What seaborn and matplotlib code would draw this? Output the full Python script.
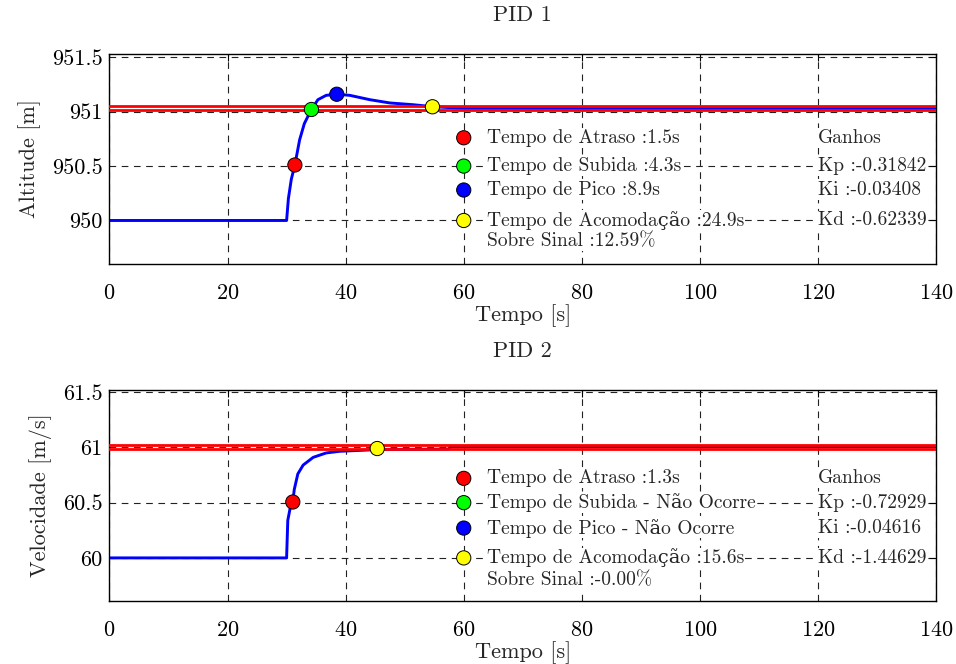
import matplotlib
matplotlib.use("Agg")
import matplotlib.pyplot as plt
import numpy as np
import pandas as pd
import seaborn as sns
from matplotlib.ticker import FuncFormatter

# ---------------- data ----------------
titles = ["PID 1", "PID 2"]
ylabels = ["Altitude [m]", "Velocidade [m/s]"]
xlabel = "Tempo [s]"
xticks = [0, 20, 40, 60, 80, 100, 120, 140]

# PID 1 (altitude)
t1 = [0, 30.0, 30.3, 30.8, 31.4, 32.2, 33.0, 34.1, 35.3, 36.7, 38.5, 40.7,
      44.1, 47.5, 51.4, 54.7, 60.0, 140]
y1 = [950.0, 950.0, 950.2, 950.38, 950.51, 950.74, 950.89, 951.01, 951.11,
      951.15, 951.16, 951.15, 951.11, 951.08, 951.064, 951.046, 951.03, 951.03]
band1 = [951.011, 951.049]
yticks1 = [950, 950.5, 951, 951.5]
ylim1 = (949.6, 951.53)
mk_t1 = [31.4, 34.2, 38.5, 54.7]
mk_y1 = [950.51, 951.02, 951.16, 951.045]
leg_y1 = [950.76, 950.5, 950.28, 950.0, 949.81]
texts1 = ["Tempo de Atraso :1.5s", "Tempo de Subida :4.3s", "Tempo de Pico :8.9s",
          "Tempo de Acomodação :24.9s", "Sobre Sinal :12.59%"]
gains1 = ["Ganhos", "Kp :-0.31842", "Ki :-0.03408", "Kd :-0.62339"]

# PID 2 (velocidade)
t2 = [0, 30.0, 30.2, 30.6, 31.05, 31.3, 31.6, 31.9, 32.8, 34.5, 36.7, 39.0,
      45.2, 57.4, 57.8, 140]
y2 = [60.0, 60.0, 60.34, 60.45, 60.51, 60.62, 60.69, 60.76, 60.84, 60.91,
      60.95, 60.965, 60.98, 60.985, 61.006, 61.006]
band2 = [60.987, 61.025]
yticks2 = [60, 60.5, 61, 61.5]
ylim2 = (59.61, 61.52)
mk_t2 = [31.05, 45.35]
mk_y2 = [60.506, 60.99]
mk_c2 = ["#ff0000", "#ffff00"]
leg_y2 = [60.72, 60.5, 60.27, 60.0, 59.80]
texts2 = ["Tempo de Atraso :1.3s", "Tempo de Subida - Não Ocorre",
          "Tempo de Pico - Não Ocorre", "Tempo de Acomodação :15.6s",
          "Sobre Sinal :-0.00%"]
gains2 = ["Ganhos", "Kp :-0.72929", "Ki :-0.04616", "Kd :-1.44629"]

marker_colors = ["#ff0000", "#00ff00", "#0000ff", "#ffff00"]
leg_marker_x = 60
leg_text_x = 64
gain_x = 120

# ---------------- style ----------------
sns.set_style("white")
plt.rcParams['font.family'] = ['cmr10', 'DejaVu Serif']
plt.rcParams['axes.formatter.use_mathtext'] = True
plt.rcParams['axes.unicode_minus'] = False

fig = plt.figure(figsize=(9.56, 6.64), dpi=100)
ax1 = fig.add_axes([0.1145, 0.6024, 0.8647, 0.3163])
ax2 = fig.add_axes([0.1145, 0.0949, 0.8647, 0.3178])

fmt = FuncFormatter(lambda v, p: "%g" % v)


def draw(ax, t, y, band, mk_t, mk_y, mk_c, leg_y, texts, gains, yticks, ylim,
         title, ylabel):
    ax.set_axisbelow(True)
    df = pd.DataFrame({"t": t, "y": y})
    sns.lineplot(data=df, x="t", y="y", ax=ax, color="#0000ff", lw=2.1,
                 estimator=None, sort=False, zorder=2)
    for b in band:
        sns.lineplot(x=[0, 140], y=[b, b], ax=ax, color="#ff0000", lw=2.0,
                     estimator=None, zorder=3)
    sns.scatterplot(x=mk_t, y=mk_y, ax=ax, hue=list(range(len(mk_t))),
                    palette=mk_c, s=105, edgecolor="black", linewidth=0.7,
                    legend=False, zorder=5)
    sns.scatterplot(x=[leg_marker_x] * 4, y=leg_y[:4], ax=ax,
                    hue=[0, 1, 2, 3], palette=marker_colors, s=105,
                    edgecolor="black", linewidth=0.7, legend=False, zorder=5)
    bb = dict(facecolor="white", edgecolor="none", pad=0.5)
    for yy, s in zip(leg_y, texts):
        ax.text(leg_text_x, yy, s, fontsize=14, va="center", ha="left",
                bbox=bb, zorder=4)
    for yy, s in zip(leg_y[:4], gains):
        ax.text(gain_x, yy, s, fontsize=14, va="center", ha="left",
                bbox=bb, zorder=4)
    ax.set_xlim(0, 140)
    ax.set_ylim(*ylim)
    ax.set_xticks(xticks)
    ax.set_yticks(yticks)
    ax.yaxis.set_major_formatter(fmt)
    ax.grid(True, color="#222222", linestyle=(0, (6, 5)), linewidth=0.8)
    ax.tick_params(direction="in", length=5, width=0.8, top=True, right=True,
                   labelsize=16, colors="black")
    ax.tick_params(axis="x", pad=14)
    ax.tick_params(axis="y", pad=5)
    for sp in ax.spines.values():
        sp.set_color("black")
        sp.set_linewidth(1.0)
    ax.set_xlabel(xlabel, fontsize=16, labelpad=1)
    ax.set_ylabel(ylabel, fontsize=16, labelpad=8)
    ax.set_title(title, fontsize=16, pad=24)


draw(ax1, t1, y1, band1, mk_t1, mk_y1, marker_colors, leg_y1, texts1, gains1,
     yticks1, ylim1, titles[0], ylabels[0])
draw(ax2, t2, y2, band2, mk_t2, mk_y2, mk_c2, leg_y2, texts2, gains2,
     yticks2, ylim2, titles[1], ylabels[1])

fig.savefig("out.png", dpi=100)
